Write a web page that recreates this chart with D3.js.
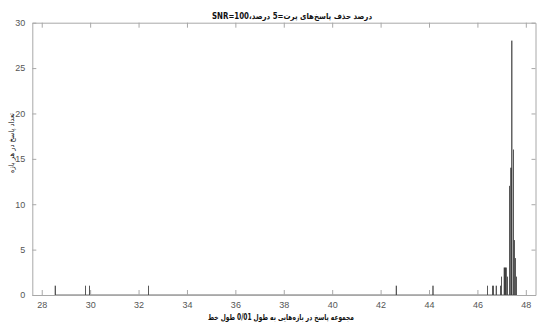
<!DOCTYPE html>
<html>
<head>
<meta charset="utf-8">
<script src="https://cdn.jsdelivr.net/npm/d3@7"></script>
<style>
  html, body { margin: 0; padding: 0; background: #fff; }
  svg { display: block; }
  .tick-label { font-family: "Liberation Sans", Arial, sans-serif; font-size: 9px; fill: #555; }
  .fa { font-family: "DejaVu Sans", sans-serif; fill: #111; }
</style>
</head>
<body>
<svg id="chart" width="537" height="325"></svg>
<script>
// Histogram of response sums, bin width 0.01 (bin start, count)
const binWidth = 0.01;
const binStarts = [28.55, 29.80, 29.97, 32.41, 42.64, 44.16,
  46.41, 46.62, 46.66, 46.77, 46.95, 46.99, 47.10, 47.14, 47.18, 47.24,
  47.32, 47.38, 47.42, 47.48, 47.52, 47.57, 47.61];
const counts = [1, 1, 1, 1, 1, 1,
  1, 1, 1, 1, 1, 2, 3, 3, 3, 2,
  12, 14, 28, 16, 6, 4, 2];

const xTicks = [28, 30, 32, 34, 36, 38, 40, 42, 44, 46, 48];
const yTicks = [0, 5, 10, 15, 20, 25, 30];

const titleText = "درصد حذف پاسخ‌های پرت=5 درصد،SNR=100";
const xLabelText = "مجموعه پاسخ در بازه‌هایی به طول 0/01 طول خط";
const yLabelText = "تعداد پاسخ در هر بازه";

const plotLeft = 32.3, plotRight = 535.5, plotTop = 22.7, plotBottom = 295;
const svg = d3.select("#chart");

const x = d3.scaleLinear().domain([27.61, 48.40]).range([plotLeft, plotRight]);
const y = d3.scaleLinear().domain([0, 30]).range([plotBottom, plotTop]);

const axisColor = "#a8a8a8";

// bars
const bins = binStarts.map((s, i) => ({ s, c: counts[i] }));
svg.append("g").selectAll("rect").data(bins).join("rect")
  .attr("x", d => x(d.s))
  .attr("width", d => x(d.s + binWidth) - x(d.s))
  .attr("y", d => y(d.c))
  .attr("height", d => y(0) - y(d.c))
  .attr("fill", "#000")
  .attr("stroke", "#000")
  .attr("stroke-width", 0.55);

// zero-height bar edges along the baseline over the binned range
svg.append("line")
  .attr("x1", x(d3.min(binStarts))).attr("x2", x(d3.max(binStarts) + binWidth))
  .attr("y1", y(0)).attr("y2", y(0))
  .attr("stroke", "#444").attr("stroke-width", 0.8);

// axes (box with inward ticks on all four sides)
const axB = d3.axisBottom(x).tickValues(xTicks).tickSize(-5).tickPadding(7).tickSizeOuter(0);
const axT = d3.axisTop(x).tickValues(xTicks).tickSize(-5).tickFormat("").tickSizeOuter(0);
const axL = d3.axisLeft(y).tickValues(yTicks).tickSize(-4).tickPadding(7).tickSizeOuter(0);
const axR = d3.axisRight(y).tickValues(yTicks).tickSize(-4).tickFormat("").tickSizeOuter(0);

function style(g) {
  g.selectAll(".domain").attr("stroke", axisColor);
  g.selectAll(".tick line").attr("stroke", axisColor);
  g.selectAll(".tick text").attr("class", "tick-label").attr("fill", null);
}
svg.append("g").attr("transform", `translate(0,${plotBottom})`).call(axB).call(style);
svg.append("g").attr("transform", `translate(0,${plotTop})`).call(axT).call(style);
svg.append("g").attr("transform", `translate(${plotLeft},0)`).call(axL).call(style);
svg.append("g").attr("transform", `translate(${plotRight},0)`).call(axR).call(style);

// title
svg.append("text").attr("class", "fa")
  .attr("x", 292).attr("y", 19)
  .attr("text-anchor", "middle").attr("direction", "rtl")
  .attr("font-size", 8).attr("font-weight", "bold")
  .attr("textLength", 160).attr("lengthAdjust", "spacingAndGlyphs")
  .text(titleText);

// x label
svg.append("text").attr("class", "fa")
  .attr("x", 281).attr("y", 320)
  .attr("text-anchor", "middle").attr("direction", "rtl")
  .attr("font-size", 8).attr("font-weight", "bold")
  .attr("textLength", 146).attr("lengthAdjust", "spacingAndGlyphs")
  .text(xLabelText);

// y label
svg.append("text").attr("class", "fa")
  .attr("transform", "translate(14,143) rotate(-90)")
  .attr("text-anchor", "middle").attr("direction", "rtl")
  .attr("font-size", 7.5)
  .attr("textLength", 60).attr("lengthAdjust", "spacingAndGlyphs")
  .text(yLabelText);
</script>
</body>
</html>
